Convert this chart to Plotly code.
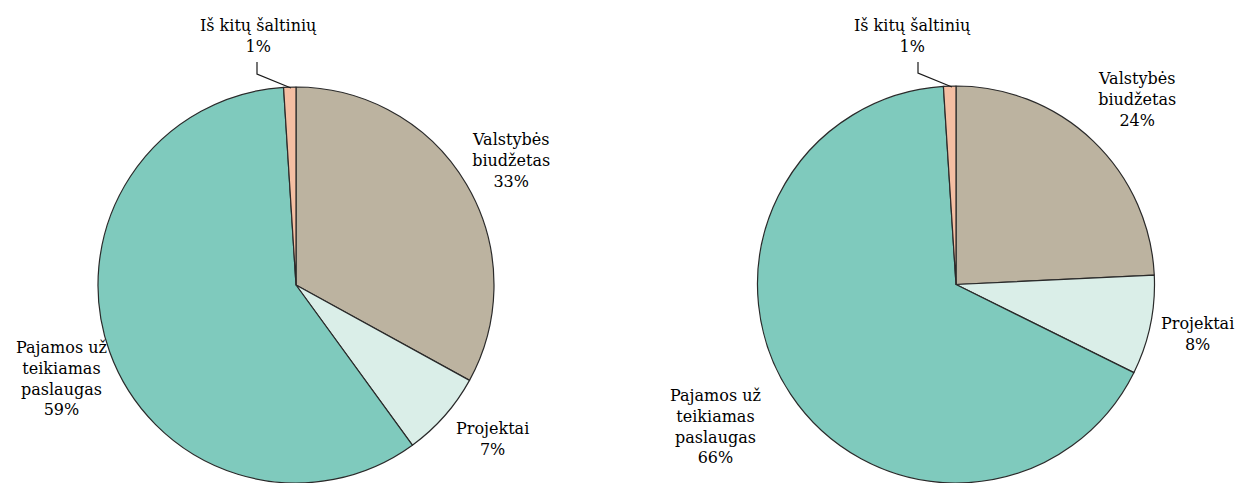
import plotly.graph_objects as go

W, H = 1235, 483

categories = ["Valstybės biudžetas", "Projektai", "Pajamos už teikiamas paslaugas", "Iš kitų šaltinių"]
values_left = [33, 7, 59, 1]
values_right = [24, 8, 66, 1]
colors = ["#BCB3A0", "#DAEEE8", "#7FCABD", "#F5BFA3"]

label_text = ["Valstybės<br>biudžetas", "Projektai", "Pajamos už<br>teikiamas<br>paslaugas", "Iš kitų šaltinių"]

FONT = "DejaVu Serif"


def px_x(x):
    return x / W


def px_y(y):
    return 1 - y / H


fig = go.Figure()

domains = [
    dict(x=[px_x(97), px_x(495)], y=[0, px_y(87)]),
    dict(x=[px_x(757), px_x(1155)], y=[0, px_y(86)]),
]

for vals, dom in zip([values_left, values_right], domains):
    fig.add_trace(go.Pie(
        labels=categories,
        values=vals,
        sort=False,
        direction="clockwise",
        rotation=0,
        marker=dict(colors=colors, line=dict(color="#2a2a2a", width=1.2)),
        textinfo="none",
        hoverinfo="label+percent",
        domain=dom,
        showlegend=False,
    ))

# label positions (pixels) for each pie: Valstybės, Projektai, Pajamos, Iš kitų
label_pos = [
    [(511, 160), (492, 439), (61, 378), (258, 36)],
    [(1137, 100), (1197, 334), (715, 426), (912, 36)],
]

annotations = []
for vals, poss in zip([values_left, values_right], label_pos):
    for txt, v, (x, y) in zip(label_text, vals, poss):
        annotations.append(dict(
            x=px_x(x), y=px_y(y), xref="paper", yref="paper",
            text=f"{txt}<br>{v}%", showarrow=False,
            xanchor="center", yanchor="middle", align="center",
            font=dict(family=FONT, size=16, color="#000000"),
        ))

# leader lines for the small slice
shapes = []
for pts in [[(257, 62), (257, 74), (291, 88)], [(918, 62), (918, 73), (952, 87)]]:
    path = "M " + " L ".join(f"{px_x(x)},{px_y(y)}" for x, y in pts)
    shapes.append(dict(type="path", path=path, xref="paper", yref="paper",
                       line=dict(color="#1a1a1a", width=1.2)))

fig.update_layout(
    width=W, height=H,
    margin=dict(l=0, r=0, t=0, b=0),
    paper_bgcolor="white",
    plot_bgcolor="white",
    annotations=annotations,
    shapes=shapes,
)

fig.write_html("out.html", config={"displayModeBar": False},
               post_script="document.body.style.margin='0';document.body.style.overflow='hidden';")
